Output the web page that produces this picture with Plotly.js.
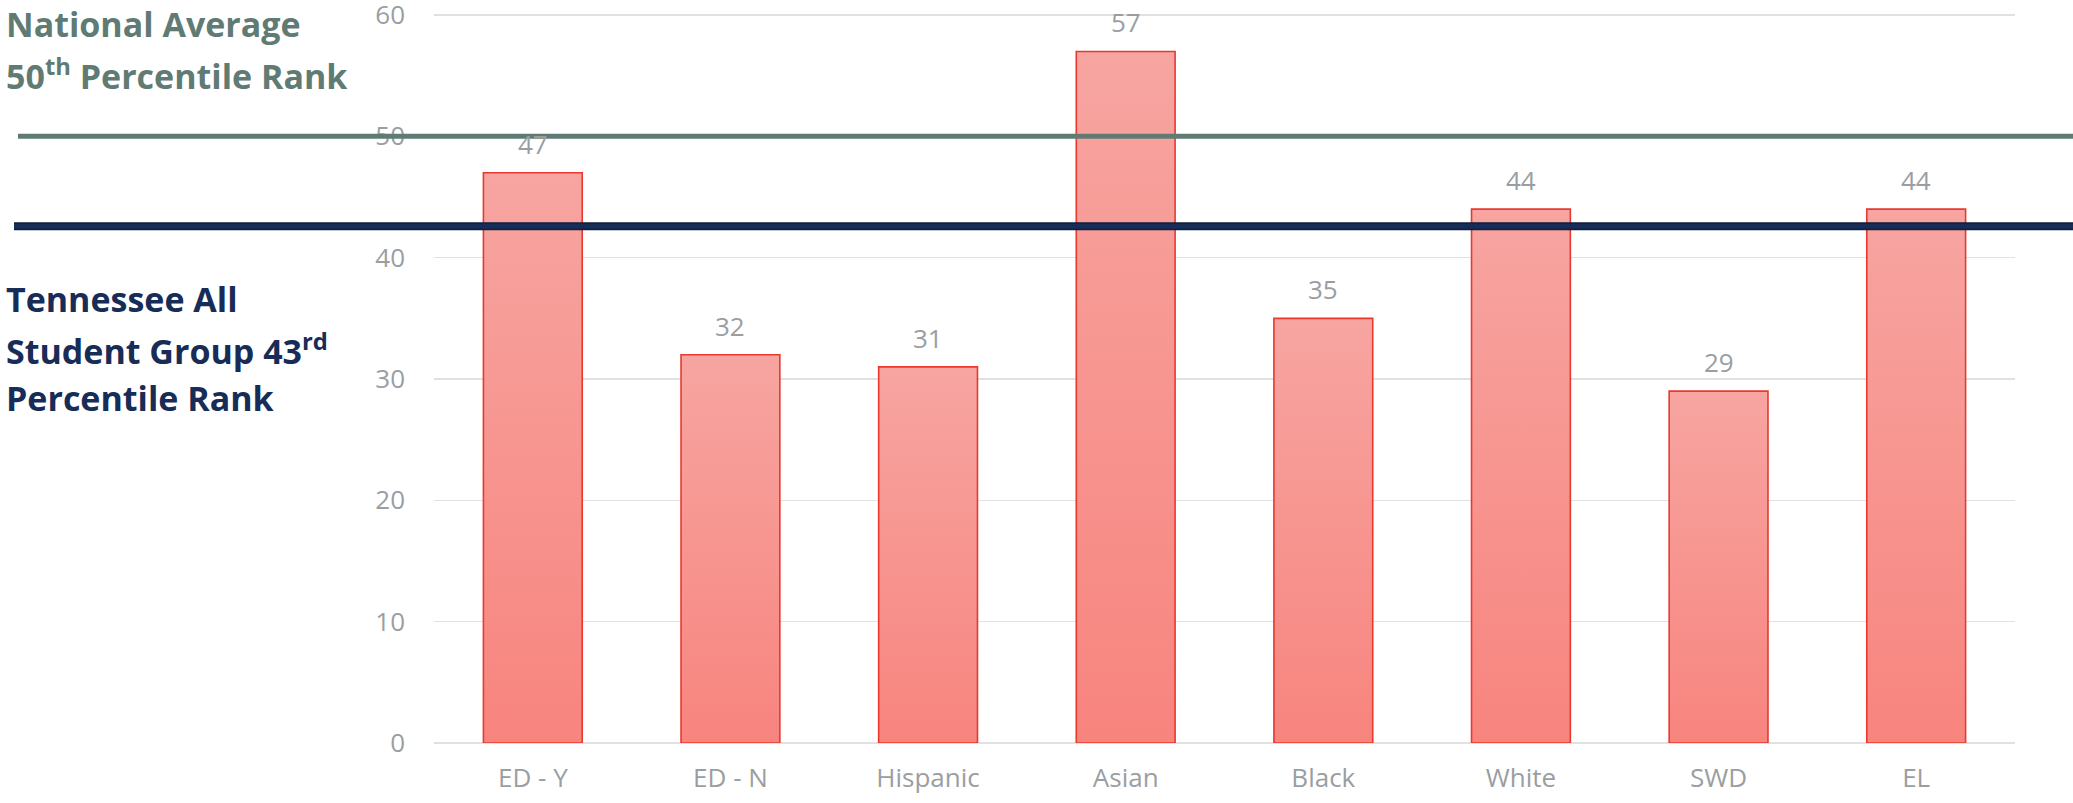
<!DOCTYPE html>
<html>
<head>
<meta charset="utf-8">
<script src="https://cdn.plot.ly/plotly-3.0.1.min.js"></script>
<style>
  html, body { margin: 0; padding: 0; background: #ffffff; }
  #chart { width: 2073px; height: 803px; }
</style>
</head>
<body>
<div id="chart"></div>
<script>
// ---- data ----
const categories = ["ED - Y", "ED - N", "Hispanic", "Asian", "Black", "White", "SWD", "EL"];
const percentileRanks = [47, 32, 31, 57, 35, 44, 29, 44];
const nationalAverage = 50;      // National Average 50th percentile rank
const tennesseeAll = 42.6;       // Tennessee All Student Group 43rd percentile rank (as drawn)
const yTickValues = [0, 10, 20, 30, 40, 50, 60];

// ---- styling ----
const grayText = "#9a9ea2";
const greenLine = "#5f7b73";
const navyLine = "#172c56";
const barEdge = "#e8392f";

// plot area in pixels (for placing outside-text in paper coords)
const W = 2073, H = 803;
const mL = 434, mR = 58, mT = 12, mB = 60;
const plotW = W - mL - mR, plotH = H - mT - mB;
const px2paperX = px => (px - mL) / plotW;
const px2paperY = py => (H - mB - py) / plotH;

const barTrace = {
  type: "bar",
  x: categories,
  y: percentileRanks,
  width: 0.5,
  marker: { color: "#f7948f", line: { color: barEdge, width: 1.6 } },
  hoverinfo: "skip",
  showlegend: false
};

const valueLabels = categories.map((c, i) => ({
  x: c, y: percentileRanks[i], xref: "x", yref: "y",
  text: String(percentileRanks[i]), showarrow: false,
  yanchor: "bottom", yshift: 9,
  font: { family: "Open Sans, sans-serif", size: 26, color: grayText }
}));

const boldFont = (color) => ({ family: "Open Sans, sans-serif", size: 34, color: color, weight: 700 });
const leftText = [
  { t: "<b>National Average</b>", y: 24, c: greenLine },
  { t: "<b>50<sup>th</sup> Percentile Rank</b>", y: 74, c: greenLine },
  { t: "<b>Tennessee All</b>", y: 299, c: navyLine },
  { t: "<b>Student Group 43<sup>rd</sup></b>", y: 349, c: navyLine },
  { t: "<b>Percentile Rank</b>", y: 398, c: navyLine }
].map(o => ({
  xref: "paper", yref: "paper", x: px2paperX(4), y: px2paperY(o.y),
  xanchor: "left", yanchor: "middle", align: "left",
  text: o.t, showarrow: false, font: boldFont(o.c)
}));

const layout = {
  width: W, height: H,
  margin: { l: mL, r: mR, t: mT, b: mB, pad: 0 },
  paper_bgcolor: "#ffffff",
  plot_bgcolor: "#ffffff",
  font: { family: "Open Sans, sans-serif", color: grayText },
  xaxis: {
    type: "category",
    showgrid: false, showline: false, zeroline: false,
    ticks: "", ticklabelstandoff: 17,
    tickfont: { size: 26, color: grayText }
  },
  yaxis: {
    range: [0, 60.25],
    tickvals: yTickValues,
    ticktext: yTickValues.map(String),
    showgrid: true, gridcolor: "#e1e1e1", gridwidth: 1.5,
    zeroline: true, zerolinecolor: "#e1e1e1", zerolinewidth: 1.5,
    showline: false, ticks: "", ticklabelstandoff: 28,
    ticklabeloverflow: "allow",
    tickfont: { size: 26, color: grayText }
  },
  shapes: [
    { type: "line", xref: "paper", yref: "y", x0: px2paperX(18), x1: px2paperX(W + 5),
      y0: nationalAverage, y1: nationalAverage, line: { color: greenLine, width: 5 }, layer: "above" },
    { type: "line", xref: "paper", yref: "y", x0: px2paperX(14), x1: px2paperX(W + 5),
      y0: tennesseeAll, y1: tennesseeAll, line: { color: "#0f1f3d", width: 8 }, layer: "above" },
    { type: "line", xref: "paper", yref: "y", x0: px2paperX(14), x1: px2paperX(W + 5),
      y0: tennesseeAll, y1: tennesseeAll, line: { color: navyLine, width: 5 }, layer: "above" }
  ],
  annotations: valueLabels.concat(leftText),
  showlegend: false
};

Plotly.newPlot("chart", [barTrace], layout, { displayModeBar: false, staticPlot: true }).then(gd => {
  // apply a vertical gradient to the bars (light top, deeper bottom)
  const svg = gd.querySelector(".main-svg");
  const ns = "http://www.w3.org/2000/svg";
  let defs = svg.querySelector("defs");
  if (!defs) { defs = document.createElementNS(ns, "defs"); svg.insertBefore(defs, svg.firstChild); }
  const grad = document.createElementNS(ns, "linearGradient");
  grad.setAttribute("id", "barGrad");
  grad.setAttribute("x1", "0"); grad.setAttribute("y1", "0");
  grad.setAttribute("x2", "0"); grad.setAttribute("y2", "1");
  [["0%", "#f7a5a1"], ["100%", "#f8847e"]].forEach(([o, c]) => {
    const s = document.createElementNS(ns, "stop");
    s.setAttribute("offset", o); s.setAttribute("stop-color", c);
    grad.appendChild(s);
  });
  defs.appendChild(grad);
  gd.querySelectorAll(".trace.bars .point path").forEach(p => {
    p.style.fill = "url(#barGrad)";
    p.style.fillOpacity = "1";
  });
});
</script>
</body>
</html>
